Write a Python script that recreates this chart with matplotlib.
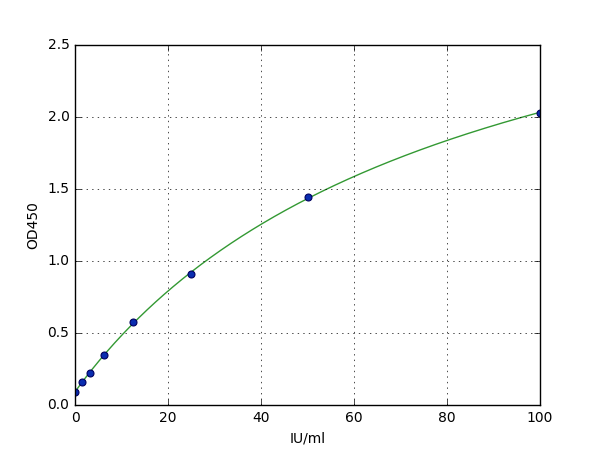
import numpy as np
import matplotlib
matplotlib.use("Agg")
import matplotlib.pyplot as plt

plt.style.use('classic')
plt.rcParams['font.size'] = 10

# standard concentrations and measured OD
conc = np.array([0, 1.5625, 3.125, 6.25, 12.5, 25, 50, 100])
od = np.array([0.09, 0.16, 0.224, 0.347, 0.576, 0.91, 1.441, 2.031])


def four_pl(x, p):
    a, b, c, d = p
    return d + (a - d) / (1 + (x / c) ** b)


# fit a 4 parameter logistic with a plain Levenberg-Marquardt loop
p = np.array([0.09, 1.0, 60.0, 3.0])
lam = 1e-3
for it in range(500):
    r = od - four_pl(conc, p)
    J = np.zeros((len(conc), 4))
    for k in range(4):
        dp = np.zeros(4)
        dp[k] = 1e-6 * max(abs(p[k]), 1)
        J[:, k] = (four_pl(conc, p + dp) - four_pl(conc, p - dp)) / (2 * dp[k])
    A = J.T @ J
    g = J.T @ r
    step = np.linalg.solve(A + lam * np.diag(np.diag(A)), g)
    p_new = p + step
    if p_new[2] > 0 and np.sum((od - four_pl(conc, p_new)) ** 2) < np.sum(r ** 2):
        p = p_new
        lam *= 0.5
    else:
        lam *= 4

x_fit = np.linspace(0, 100, 400)
y_fit = four_pl(x_fit, p)

fig = plt.figure(figsize=(6, 4.5), dpi=100)
ax = fig.add_subplot(111)
ax.plot(x_fit, y_fit, '-', color='#339933', linewidth=1)
ax.plot(conc, od, 'o', markersize=5, markerfacecolor='#0a2db0',
        markeredgecolor='#000060', markeredgewidth=0.8)
ax.set_xlim(0, 100)
ax.set_ylim(0, 2.5)
ax.set_xlabel('IU/ml')
ax.set_ylabel('OD450')
ax.grid(True)
fig.savefig('out.png', dpi=100)
